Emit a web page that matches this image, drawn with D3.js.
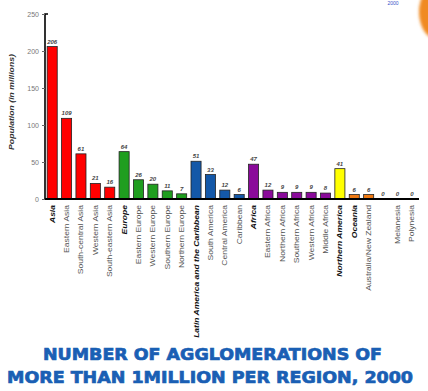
<!DOCTYPE html>
<html>
<head>
<meta charset="utf-8">
<script src="https://cdn.jsdelivr.net/npm/d3@7/dist/d3.min.js"></script>
<style>
  html, body { margin: 0; padding: 0; background: #ffffff; }
  svg { display: block; }
</style>
</head>
<body>
<script>
// Regions and sub-regions, in drawing order
const categories = [
  "Asia", "Eastern Asia", "South-central Asia", "Western Asia", "South-eastern Asia",
  "Europe", "Eastern Europe", "Western Europe", "Southern Europe", "Northern Europe",
  "Latin America and the Caribbean", "South America", "Central America", "Caribbean",
  "Africa", "Eastern Africa", "Northern Africa", "Southern Africa", "Western Africa", "Middle Africa",
  "Northern America",
  "Oceania", "Australia/New Zealand", "", "Melanesia", "Polynesia"
];
// Number of agglomerations with more than 1 million inhabitants
const values = [
  206, 109, 61, 21, 16,
  64, 26, 20, 11, 7,
  51, 33, 12, 6,
  47, 12, 9, 9, 9, 8,
  41,
  6, 6, 0, 0, 0
];
// Major regions are printed in bold italic
const majorRegions = ["Asia", "Europe", "Latin America and the Caribbean", "Africa", "Northern America", "Oceania"];
// Colour group of every bar
const groups = [
  "asia", "asia", "asia", "asia", "asia",
  "europe", "europe", "europe", "europe", "europe",
  "latam", "latam", "latam", "latam",
  "africa", "africa", "africa", "africa", "africa", "africa",
  "namerica",
  "oceania", "oceania", "oceania", "oceania", "oceania"
];
const groupNames = ["asia", "europe", "latam", "africa", "namerica", "oceania"];
const groupColors = ["#ff0000", "#1f9e1f", "#1458a8", "#8a0a9a", "#ffff00", "#f07a12"];
const yTicks = [0, 50, 100, 150, 200, 250];
const yTitle = "Population (in millions)";
const titleLines = ["NUMBER OF AGGLOMERATIONS OF", "MORE THAN 1MILLION PER REGION, 2000"];

const W = 428, H = 391;
const svg = d3.select("body").append("svg").attr("width", W).attr("height", H);

// Decorative orange globe edge at the top right
const defs = svg.append("defs");
defs.append("filter").attr("id", "soft")
  .append("feGaussianBlur").attr("stdDeviation", 1.5);
svg.append("ellipse")
  .attr("cx", 438).attr("cy", 12).attr("rx", 19).attr("ry", 28)
  .attr("fill", "#f08a20").attr("filter", "url(#soft)");
svg.append("text")
  .attr("x", 393).attr("y", 5)
  .attr("text-anchor", "middle")
  .attr("font-family", "Liberation Sans, Arial, sans-serif")
  .attr("font-size", 5).attr("fill", "#3a50c8")
  .text("2000");

const x = d3.scaleBand().domain(d3.range(categories.length)).range([45, 419]).paddingInner(0.3).paddingOuter(0.15);
const y = d3.scaleLinear().domain([0, 250]).range([199, 14]);
const color = d3.scaleOrdinal().domain(groupNames).range(groupColors);

// Y axis
const yAxis = d3.axisLeft(y).tickValues(yTicks).tickSize(3).tickPadding(3);
const gy = svg.append("g").attr("transform", "translate(45,0)").call(yAxis);
gy.select(".domain").attr("stroke", "#000").attr("stroke-width", 1.6).attr("d", "M3,14H0V199");
gy.selectAll(".tick line").attr("stroke", "#666");
gy.selectAll(".tick text")
  .attr("font-family", "Liberation Sans, Arial, sans-serif")
  .attr("font-size", 7).attr("fill", "#777");

svg.append("text")
  .attr("transform", "translate(14,102) rotate(-90) scale(1.24,1)")
  .attr("text-anchor", "middle")
  .attr("font-family", "Liberation Sans, Arial, sans-serif")
  .attr("font-size", 7).attr("font-weight", "bold").attr("font-style", "italic")
  .attr("fill", "#333")
  .text(yTitle);

// Bars
const data = categories.map((c, i) => ({ i, c, v: values[i], g: groups[i] }));
svg.append("g").selectAll("rect").data(data).join("rect")
  .attr("x", d => x(d.i))
  .attr("y", d => y(d.v))
  .attr("width", x.bandwidth())
  .attr("height", d => y(0) - y(d.v))
  .attr("fill", d => color(d.g))
  .attr("stroke", "#222").attr("stroke-width", 0.8);

// Value labels
svg.append("g").selectAll("text").data(data).join("text")
  .attr("x", d => x(d.i) + x.bandwidth() / 2)
  .attr("y", d => y(d.v) - 3)
  .attr("text-anchor", "middle")
  .attr("font-family", "Liberation Sans, Arial, sans-serif")
  .attr("font-size", 6).attr("font-style", "italic").attr("font-weight", "bold")
  .attr("fill", "#444")
  .text(d => d.v);

// Baseline
svg.append("line")
  .attr("x1", 45).attr("x2", 419).attr("y1", y(0)).attr("y2", y(0))
  .attr("stroke", "#000").attr("stroke-width", 2);

// Category labels, written upward from below the axis (condensed type, stretched lengthwise)
svg.append("g").selectAll("text").data(data).join("text")
  .attr("transform", d => `translate(${x(d.i) + x.bandwidth() / 2 + 2.5},205) rotate(-90) scale(1.22,1)`)
  .attr("text-anchor", "end")
  .attr("font-family", "Liberation Sans, Arial, sans-serif")
  .attr("font-size", 7)
  .attr("font-weight", d => majorRegions.includes(d.c) ? "bold" : "normal")
  .attr("font-style", d => majorRegions.includes(d.c) ? "italic" : "normal")
  .attr("fill", d => majorRegions.includes(d.c) ? "#111" : "#555")
  .text(d => d.c);

// Title
const titleX = [212.5, 210];
const titleLen = [339, 406];
svg.append("g").selectAll("text").data(titleLines).join("text")
  .attr("x", (d, i) => titleX[i])
  .attr("y", (d, i) => 360 + i * 23)
  .attr("text-anchor", "middle")
  .attr("textLength", (d, i) => titleLen[i])
  .attr("lengthAdjust", "spacingAndGlyphs")
  .attr("font-family", "DejaVu Sans, Arial, sans-serif")
  .attr("font-weight", "bold")
  .attr("font-size", 16)
  .attr("fill", "#1a5fb4")
  .attr("stroke", "#1a5fb4").attr("stroke-width", 0.7)
  .text(d => d);
</script>
</body>
</html>
